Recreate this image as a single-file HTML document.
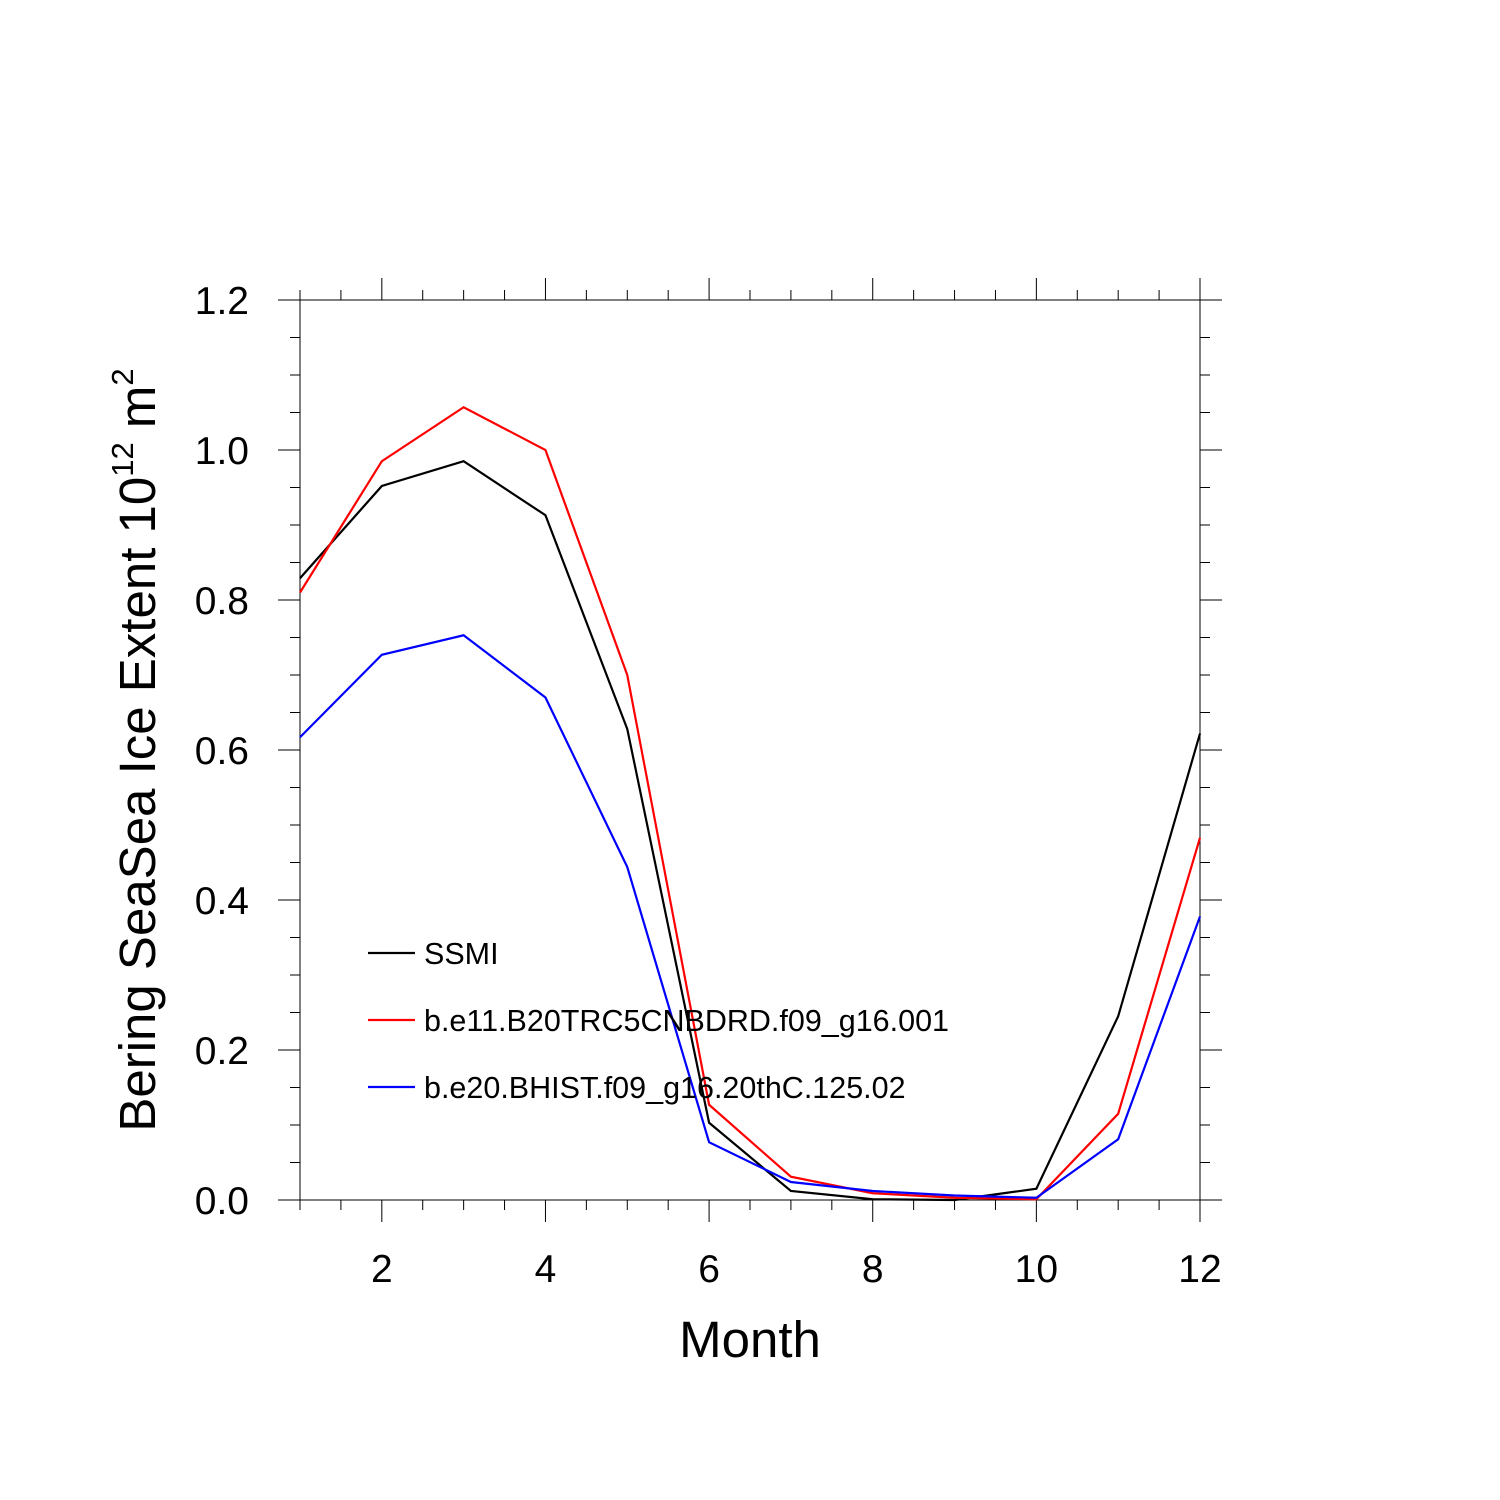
<!DOCTYPE html>
<html><head><meta charset="utf-8"><style>
html,body{margin:0;padding:0;background:#fff;}
svg{display:block;font-family:"Liberation Sans",Arial,sans-serif;}
</style></head><body>
<svg id="chart" width="1500" height="1500" viewBox="0 0 1500 1500">
<rect width="1500" height="1500" fill="#fff"/>
<g id="ticks"></g>
<g id="series"></g>
<text x="0" y="0" transform="translate(155,750) rotate(-90)" text-anchor="middle" font-size="51">Bering SeaSea Ice Extent 10<tspan font-size="31" dy="-22">12</tspan><tspan dy="22"> m</tspan><tspan font-size="31" dy="-22">2</tspan></text>
<text x="750" y="1357" text-anchor="middle" font-size="51">Month</text>
<g id="legend"></g>
</svg>
<script>
const months=[1,2,3,4,5,6,7,8,9,10,11,12];
const ssmi=[0.829,0.952,0.985,0.913,0.628,0.103,0.012,0.001,0.0,0.015,0.245,0.622];
const e11=[0.81,0.985,1.057,1.0,0.70,0.127,0.031,0.009,0.003,0.001,0.115,0.483];
const e20=[0.617,0.727,0.753,0.67,0.444,0.077,0.024,0.012,0.006,0.003,0.081,0.378];
const seriesNames=["SSMI","b.e11.B20TRC5CNBDRD.f09_g16.001","b.e20.BHIST.f09_g16.20thC.125.02"];
const xTicks=[2,4,6,8,10,12];
const yTicks=[0,0.2,0.4,0.6,0.8,1.0,1.2];
const NS="http://www.w3.org/2000/svg";
const X=m=>300+(m-1)*900/11;
const Y=v=>1200-v*750;
function el(tag,attrs,parent){const e=document.createElementNS(NS,tag);for(const k in attrs)e.setAttribute(k,attrs[k]);parent.appendChild(e);return e;}
const t=document.getElementById('ticks');
let b=el('rect',{x:300,y:300,width:900,height:900,fill:'none',stroke:'#000','stroke-width':1},t);


for(let m=1;m<=12.001;m+=0.5){
 const x=X(m);const major=xTicks.includes(m);const len=major?22:10;
 el('line',{x1:x,y1:1200,x2:x,y2:1200+len,stroke:'#000'},t);
 el('line',{x1:x,y1:300,x2:x,y2:300-len,stroke:'#000'},t);
}
for(let v=0;v<=1.2001;v+=0.05){
 const y=Y(v);const major=Math.abs(Math.round(v/0.2)*0.2-v)<1e-6;const len=major?22:10;
 el('line',{x1:300,y1:y,x2:300-len,y2:y,stroke:'#000'},t);
 el('line',{x1:1200,y1:y,x2:1200+len,y2:y,stroke:'#000'},t);
}
xTicks.forEach(m=>{const e=el('text',{x:X(m),y:1282,'text-anchor':'middle','font-size':39},t);e.textContent=m;

});
yTicks.forEach(v=>{const e=el('text',{x:249,y:Y(v)+14,'text-anchor':'end','font-size':39},t);e.textContent=v.toFixed(1);

});
const s=document.getElementById('series');
const data=[ssmi,e11,e20];const colors=['#000','#f00','#00f'];const keys=['ssmi','e11','e20'];
data.forEach((d,i)=>{const p=el('polyline',{points:d.map((v,j)=>X(months[j])+','+Y(v)).join(' '),fill:'none',stroke:colors[i],'stroke-width':2.2},s);

});
const lg=document.getElementById('legend');
seriesNames.forEach((n,i)=>{const y=953+i*67;
const l=el('line',{x1:368,y1:y,x2:415,y2:y,stroke:colors[i],'stroke-width':2.2},lg);


const tx=el('text',{x:424,y:y+11,'font-size':30.5},lg);tx.textContent=n;

});
</script>
</body></html>
